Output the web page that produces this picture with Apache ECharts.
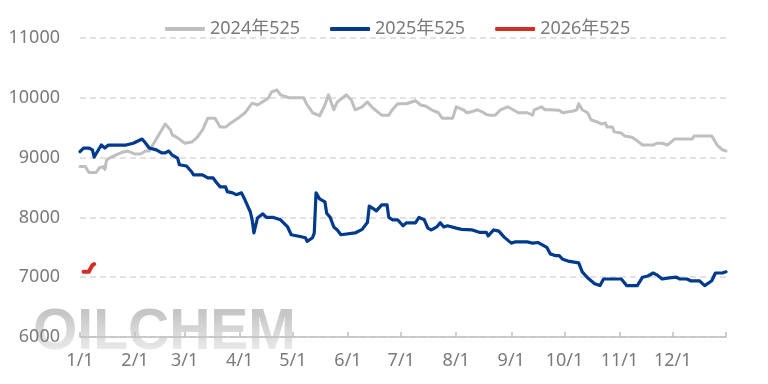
<!DOCTYPE html>
<html>
<head>
<meta charset="utf-8">
<script src="https://cdn.jsdelivr.net/npm/echarts@6/dist/echarts.min.js"></script>
<style>html,body{margin:0;padding:0;background:#fff}#c{width:768px;height:384px}</style>
</head>
<body>
<div id="c"></div>
<script>
// Calendar day categories (non-leap year)
const monthDays = [31,28,31,30,31,30,31,31,30,31,30,31];
const categories = [];
const monthStartIdx = [];
monthDays.forEach((n, m) => { monthStartIdx.push(categories.length); for (let d = 1; d <= n; d++) categories.push((m+1) + '/' + d); });
const lastIdx = categories.length - 1;

const seriesNames = ['2024年525', '2025年525', '2026年525'];

// 2024 (day-of-year index, price)
const days2024 = [0,3,5,9,11,13,14,15,17,20,24,27,31,34,37,39,41,45,48,51,52,55,59,63,66,69,72,76,79,82,85,86,90,93,97,100,101,106,108,111,113,114,118,126,128,130,131,135,138,140,143,145,150,153,155,159,162,165,170,174,176,179,184,189,192,195,198,202,204,210,212,216,218,221,224,227,229,231,234,237,241,244,247,252,255,256,260,262,265,270,272,278,280,281,283,286,288,291,294,296,297,300,301,305,307,311,314,317,323,325,328,331,335,345,346,356,359,362,364];
const vals2024 = [8850,8850,8750,8750,8830,8850,8800,8960,9000,9040,9090,9110,9060,9060,9110,9110,9210,9410,9560,9460,9380,9330,9240,9260,9340,9460,9660,9660,9510,9510,9580,9600,9680,9750,9910,9880,9890,9990,10100,10130,10050,10080,10000,10000,9880,9800,9750,9700,9880,10050,9800,9930,10050,9960,9800,9850,9930,9830,9710,9710,9800,9900,9900,9950,9880,9860,9800,9750,9660,9660,9850,9800,9750,9770,9800,9760,9720,9710,9710,9800,9850,9800,9750,9750,9710,9800,9850,9800,9800,9790,9750,9780,9800,9900,9800,9750,9630,9600,9560,9580,9510,9510,9430,9410,9360,9340,9280,9210,9210,9240,9240,9210,9310,9310,9360,9360,9210,9130,9110];

// 2025
const days2025 = [0,2,5,7,8,10,12,14,16,26,30,35,37,39,43,46,48,50,52,55,56,60,63,64,69,72,75,77,79,82,83,86,88,91,93,96,97,98,100,101,103,105,109,113,117,119,124,127,128,131,132,133,135,138,139,141,143,145,147,148,155,156,159,162,163,165,167,170,173,174,176,179,182,184,189,191,194,196,198,201,203,205,207,212,215,221,225,229,230,233,236,239,243,245,252,255,258,260,263,265,268,270,272,275,281,283,286,290,293,295,305,308,314,317,320,323,325,328,332,336,338,342,344,349,352,356,357,358,362,364];
const vals2025 = [9100,9160,9160,9130,9010,9110,9210,9160,9210,9210,9240,9310,9240,9160,9130,9080,9080,9110,9040,8990,8880,8860,8760,8710,8710,8660,8660,8580,8510,8510,8430,8410,8380,8410,8290,8090,7960,7740,7990,8010,8060,8000,8000,7960,7840,7710,7680,7660,7600,7660,7740,8410,8310,8260,8070,8000,7840,7790,7710,7740,7740,7720,7800,7920,8190,8150,8110,8210,8210,8000,7960,7960,7860,7910,7910,8000,7960,7820,7790,7840,7910,7840,7860,7820,7800,7790,7750,7750,7690,7790,7770,7670,7570,7590,7590,7570,7580,7550,7500,7390,7360,7360,7300,7270,7240,7090,6990,6890,6860,6970,6970,6860,6860,7000,7020,7070,7040,6970,6990,7000,6970,6970,6940,6940,6860,6940,6940,7070,7070,7090];

// 2026
const days2026 = [2,5,6,7,8];
const vals2026 = [7090,7090,7150,7200,7220];

const yTicks = { min: 6000, max: 11000, interval: 1000 };
const colors = ['#bfbfbf', '#003a8c', '#d12e26'];
const lineWidths = [3, 3.2, 4];

function pairs(days, vals) { return days.map((d, i) => [d, vals[i]]); }
const seriesData = [pairs(days2024, vals2024), pairs(days2025, vals2025), pairs(days2026, vals2026)];

const chart = echarts.init(document.getElementById('c'), null, { renderer: 'canvas' });
const font = '"Noto Sans", "Noto Sans CJK SC", sans-serif';
chart.setOption({
  animation: false,
  backgroundColor: '#fff',
  color: colors,
  textStyle: { fontFamily: font },
  graphic: [
    {
      type: 'text', x: 33, y: 305, z: -10, silent: true,
      style: {
        text: 'OILCHEM',
        fontSize: 57, fontWeight: 'bold', fontFamily: '"Liberation Sans", Arial, sans-serif',
        fill: '#c6c6c6', textFill: '#c6c6c6'
      }
    },
    {
      type: 'rect', x: 20, y: 300, z: -5, silent: true,
      shape: { width: 300, height: 66 },
      style: {
        fill: new echarts.graphic.LinearGradient(0, 0, 0, 1, [
          { offset: 0, color: 'rgba(255,255,255,0)' },
          { offset: 0.2, color: 'rgba(255,255,255,0)' },
          { offset: 1, color: 'rgba(255,255,255,0.9)' }
        ])
      }
    }
  ],
  legend: {
    top: 15, left: 160,
    itemWidth: 40, itemHeight: 4, itemGap: 30,
    icon: 'roundRect',
    textStyle: { color: '#7a7a7a', fontSize: 18, fontFamily: font },
    data: seriesNames
  },
  grid: { left: 80, right: 42, top: 38, bottom: 47 },
  xAxis: {
    type: 'category',
    data: categories,
    boundaryGap: false,
    axisLine: { lineStyle: { color: '#bfbfbf', width: 1.5 } },
    axisTick: {
      inside: true, length: 5, lineStyle: { color: '#bfbfbf', width: 1.5 },
      interval: (i) => monthStartIdx.includes(i) || i === lastIdx
    },
    axisLabel: {
      color: '#7a7a7a', fontSize: 18, margin: 15,
      interval: (i) => monthStartIdx.includes(i)
    },
    splitLine: { show: false }
  },
  yAxis: {
    type: 'value',
    min: yTicks.min, max: yTicks.max, interval: yTicks.interval,
    axisLine: { show: false }, axisTick: { show: false },
    axisLabel: { color: '#7a7a7a', fontSize: 18, margin: 20, formatter: (v) => String(v) },
    splitLine: { lineStyle: { color: '#d9d9d9', width: 1.5, type: [6, 4] } }
  },
  series: seriesNames.map((name, i) => ({
    name, type: 'line', data: seriesData[i],
    showSymbol: false, symbol: 'none',
    z: 2 + i,
    lineStyle: { width: lineWidths[i], color: colors[i], cap: 'round', join: 'round' }
  }))
});
</script>
</body>
</html>
